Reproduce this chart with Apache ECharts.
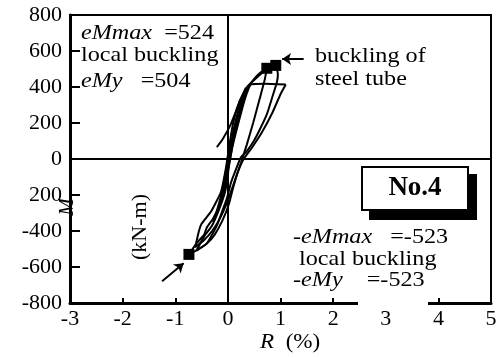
<!DOCTYPE html>
<html>
<head>
<meta charset="utf-8">
<script src="https://cdn.jsdelivr.net/npm/echarts@6/dist/echarts.min.js"></script>
<style>
  html, body { margin: 0; padding: 0; background: #fff; }
  #chart { width: 501px; height: 358px; }
</style>
</head>
<body>
<div id="chart"></div>
<script>
// tick labels as printed (the -200 label lost its minus under the "M")
const yTickLabels = ["-800", "-600", "-400", "200", "0", "200", "400", "600", "800"];

// hysteresis branches, [R (%), M (kN-m)]
const loop1 = [[0, 0], [0.1, 130], [0.2, 250], [0.3, 340], [0.38, 400], [0.3, 330], [0.18, 200], [0.06, 60],
  [-0.04, -70], [-0.12, -190], [-0.2, -280], [-0.28, -350], [-0.2, -290], [-0.1, -180], [0, -60], [0.06, 30]];
const loop2 = [[0.06, 30], [0.14, 160], [0.25, 290], [0.36, 390], [0.5, 445], [0.62, 480], [0.74, 502],
  [0.7, 440], [0.6, 330], [0.48, 200], [0.36, 80], [0.25, -20], [0.12, -130], [0, -230], [-0.15, -330],
  [-0.3, -400], [-0.45, -450], [-0.62, -490], [-0.55, -400], [-0.5, -360], [-0.32, -292], [-0.13, -182],
  [-0.04, -55], [0.02, 60], [0.1, 200], [0.22, 320], [0.36, 400]];
const loop3 = [[0.36, 400], [0.52, 445], [0.68, 485], [0.8, 505], [0.91, 520], [0.95, 470], [0.93, 425],
  [0.84, 340], [0.74, 248], [0.6, 160], [0.49, 99], [0.35, 40], [0.25, 11], [0.15, -60], [0.06, -130],
  [-0.02, -220], [-0.12, -300], [-0.21, -370], [-0.3, -420], [-0.4, -469], [-0.55, -500], [-0.74, -530],
  [-0.6, -470], [-0.45, -420], [-0.4, -380], [-0.28, -330], [-0.15, -250], [-0.05, -150], [0.02, -40],
  [0.08, 60], [0.2, 200], [0.32, 330], [0.44, 414], [0.7, 418], [1.1, 414]];
const loop4 = [[1.1, 414], [1.0, 360], [0.85, 260], [0.65, 150], [0.45, 60], [0.3, 0], [0.18, -80],
  [0.1, -160], [0.02, -250], [-0.1, -340], [-0.25, -420], [-0.4, -470], [-0.6, -510], [-0.45, -430],
  [-0.3, -370], [-0.18, -290], [-0.06, -190], [0, -100], [0.02, 0], [0.1, 150], [0.22, 290], [0.34, 395],
  [0.2, 300], [0.05, 190], [-0.1, 110], [-0.21, 66]];

// buckling points
const markers = [[0.74, 504], [0.91, 520], [-0.74, -530]];
// arrows pointing at them
const arrowTop = [[1.44, 555], [1.03, 555]];
const arrowBottom = [[-1.25, -679], [-0.84, -579]];

const font = "'Liberation Serif', 'Times New Roman', Times, serif";
const black = "#000";

let chart = echarts.init(document.getElementById("chart"));

function curve(data) {
  return {
    type: "line",
    data: data,
    showSymbol: false,
    smooth: 0.15,
    lineStyle: { color: black, width: 2 },
    silent: true,
    z: 3,
  };
}

function label(x, y, text, size, extra) {
  return Object.assign({
    type: "text",
    x: x,
    y: y,
    scaleX: 1.15,
    z: 100,
    style: {
      text: text,
      fill: black,
      font: size + "px " + font,
      verticalAlign: "middle",
      rich: {
        i: { fontStyle: "italic", fontFamily: font, fontSize: size, fill: black },
      },
    },
  }, extra || {});
}

let option = {
  animation: false,
  grid: {
    left: 70,
    right: 10,
    top: 15,
    bottom: 55,
    show: true,
    borderColor: black,
    borderWidth: 2,
  },
  xAxis: {
    type: "value",
    min: -3,
    max: 5,
    interval: 1,
    axisLine: { onZero: false, lineStyle: { color: black, width: 3 } },
    axisTick: { inside: true, length: 5, lineStyle: { color: black, width: 2 } },
    axisLabel: { color: black, fontFamily: font, fontSize: 22, margin: 5 },
    splitLine: { show: false },
  },
  yAxis: {
    type: "value",
    min: -800,
    max: 800,
    interval: 200,
    axisLine: { onZero: false, lineStyle: { color: black, width: 3 } },
    axisTick: { inside: true, length: 10, lineStyle: { color: black, width: 2 } },
    axisLabel: {
      color: black,
      fontFamily: font,
      fontSize: 22,
      margin: 8,
      formatter: (v) => yTickLabels[Math.round((v + 800) / 200)],
    },
    splitLine: { show: false },
  },
  series: [
    curve(loop1),
    curve(loop2),
    curve(loop3),
    curve(loop4),
    {
      type: "scatter",
      data: markers,
      symbol: "rect",
      symbolSize: 11,
      itemStyle: { color: black, opacity: 1 },
      silent: true,
      z: 4,
      markLine: {
        silent: true,
        symbol: ["none", "none"],
        label: { show: false },
        lineStyle: { color: black, width: 2, type: "solid", opacity: 1 },
        data: [{ xAxis: 0 }, { yAxis: 0 }],
      },
    },
    {
      type: "scatter",
      data: [],
      silent: true,
      markLine: {
        silent: true,
        symbol: ["none", "arrow"],
        symbolSize: 9,
        label: { show: false },
        lineStyle: { color: black, width: 2, type: "solid", opacity: 1 },
        data: [
          [{ coord: arrowTop[0] }, { coord: arrowTop[1] }],
          [{ coord: arrowBottom[0] }, { coord: arrowBottom[1] }],
        ],
      },
    },
  ],
  graphic: [
    label(81, 33, "{i|eMmax}  =524", 21),
    label(81, 55, "local buckling", 21),
    label(81, 81, "{i|eMy}   =504", 21),
    label(315, 56, "buckling of", 21),
    label(315, 79, "steel tube", 21),
    // white patch behind the lower right values, it cuts the axis line
    { type: "rect", z: 99, shape: { x: 358, y: 268, width: 70, height: 38 }, style: { fill: "#fff" } },
    label(293, 237, "{i|-eMmax}   =-523", 21),
    label(299, 259, "local buckling", 21),
    label(293, 280, "{i|-eMy}    =-523", 21),
    // No.4 box with its shadow
    { type: "rect", z: 100, shape: { x: 369, y: 174, width: 108, height: 46 }, style: { fill: black } },
    { type: "rect", z: 101, shape: { x: 362, y: 167, width: 106, height: 43 }, style: { fill: "#fff", stroke: black, lineWidth: 2 } },
    {
      type: "text", z: 102, x: 415, y: 188,
      style: { text: "No.4", fill: black, font: "bold 27px " + font, align: "center", verticalAlign: "middle" },
    },
    // axis names
    label(260, 342, "{i|R}  (%)", 21, { scaleX: 1.1 }),
    {
      type: "text", z: 100, x: 67, y: 207, rotation: Math.PI / 2,
      style: { text: "M", fill: black, font: "italic 21px " + font, align: "center", verticalAlign: "middle" },
    },
    {
      type: "text", z: 100, x: 140, y: 227, rotation: Math.PI / 2,
      style: { text: "(kN-m)", fill: black, font: "22px " + font, align: "center", verticalAlign: "middle" },
    },
  ],
};

chart.setOption(option);
</script>
</body>
</html>
